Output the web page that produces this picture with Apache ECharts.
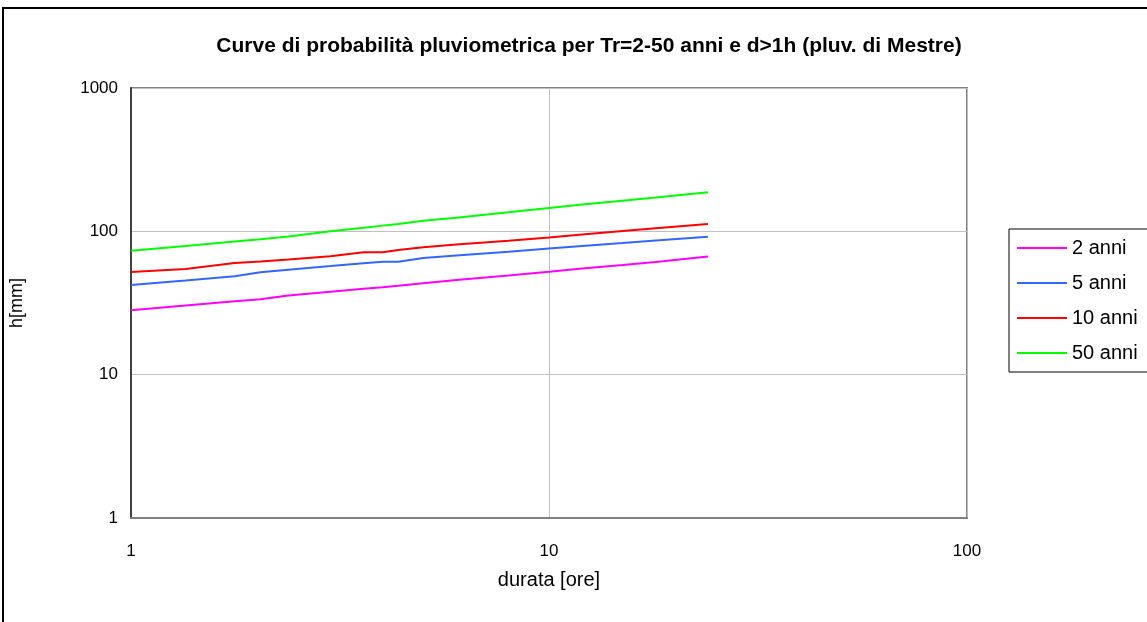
<!DOCTYPE html>
<html>
<head>
<meta charset="utf-8">
<script src="https://cdn.jsdelivr.net/npm/echarts@6/dist/echarts.min.js"></script>
<style>
html,body{margin:0;padding:0;background:#fff;}
#chart{width:1147px;height:622px;}
</style>
</head>
<body>
<div id="chart"></div>
<script>
// durations [ore]
const durations = [1, 1.35, 1.77, 2.04, 2.38, 3, 3.6, 4, 4.36, 5, 6, 8, 10, 12, 15, 18, 24];
const seriesNames = ['2 anni', '5 anni', '10 anni', '50 anni'];
const h2 =  [28.2, 30.4, 32.5, 33.6, 35.7, 37.9, 39.7, 40.7, 41.7, 43.4, 45.7, 49.2, 52.2, 55.0, 58.2, 61.1, 66.7];
const h5 =  [42.2, 45.4, 48.6, 51.8, 54.0, 57.2, 59.9, 61.4, 61.4, 65.1, 67.8, 72.0, 75.9, 79.0, 82.9, 86.3, 91.5];
const h10 = [52.0, 54.6, 60.1, 61.7, 63.6, 67.0, 71.4, 71.4, 74.0, 77.3, 80.9, 86.1, 90.7, 95.0, 100.5, 104.9, 112.4];
const h50 = [73.2, 79.1, 84.9, 88.1, 92.0, 100.2, 105.9, 109.6, 112.6, 118.4, 124.6, 135.7, 145.4, 153.6, 163.5, 172.1, 187.2];
const colors = ['#FF00FF', '#3366FF', '#FF0000', '#00FF00'];
const xTicks = [1, 10, 100];
const yTicks = [1, 10, 100, 1000];
const titleText = 'Curve di probabilità pluviometrica per Tr=2-50 anni e d>1h (pluv. di Mestre)';

const allValues = [h2, h5, h10, h50];
const chart = echarts.init(document.getElementById('chart'), null, {renderer: 'canvas'});
const font = '"Liberation Sans", Arial, sans-serif';

const series = allValues.map((vals, i) => ({
  name: seriesNames[i],
  type: 'line',
  data: durations.map((d, j) => [d, vals[j]]),
  showSymbol: false,
  symbol: 'none',
  lineStyle: {color: colors[i], width: 2},
  itemStyle: {color: colors[i]},
  emphasis: {disabled: true},
  z: 3
}));

chart.setOption({
  animation: false,
  backgroundColor: '#fff',
  textStyle: {fontFamily: font},
  title: {
    text: titleText,
    left: 584, top: 31, textAlign: 'center',
    textStyle: {fontFamily: font, fontSize: 21, fontWeight: 'bold', color: '#000'}
  },
  graphic: [{
    type: 'rect', z: 0, silent: true,
    shape: {x: 3, y: 8, width: 1200, height: 700},
    style: {fill: 'none', stroke: '#000', lineWidth: 2}
  }],
  grid: {
    left: 131, top: 88, right: 180, bottom: 104,
    show: true, borderColor: '#808080', borderWidth: 2, backgroundColor: '#fff'
  },
  legend: {
    orient: 'vertical',
    left: 1009, top: 229,
    data: seriesNames,
    icon: 'rect',
    itemWidth: 50, itemHeight: 2,
    itemGap: 15,
    padding: [9, 40, 9, 8],
    borderColor: '#000', borderWidth: 1,
    backgroundColor: '#fff',
    textStyle: {fontFamily: font, fontSize: 20, lineHeight: 20, color: '#000'},
    selectedMode: false
  },
  xAxis: {
    type: 'log', logBase: 10, min: 1, max: 100,
    name: 'durata [ore]', nameLocation: 'middle', nameGap: 52,
    nameTextStyle: {fontFamily: font, fontSize: 20, color: '#000'},
    axisLine: {show: true, lineStyle: {color: '#808080', width: 2}},
    axisTick: {show: false},
    axisLabel: {fontFamily: font, fontSize: 17, color: '#000', margin: 25,
      formatter: v => xTicks.includes(Math.round(v)) ? String(Math.round(v)) : ''},
    splitLine: {show: true, lineStyle: {color: '#c0c0c0', width: 1}},
    minorTick: {show: false}
  },
  yAxis: {
    type: 'log', logBase: 10, min: 1, max: 1000,
    name: 'h[mm]', nameLocation: 'middle', nameGap: 105, nameRotate: 90,
    nameTextStyle: {fontFamily: font, fontSize: 18, color: '#000'},
    axisLine: {show: true, lineStyle: {color: '#404040', width: 2}},
    axisTick: {show: false},
    axisLabel: {fontFamily: font, fontSize: 17, color: '#000', margin: 13,
      formatter: v => yTicks.includes(Math.round(v)) ? String(Math.round(v)) : ''},
    splitLine: {show: true, lineStyle: {color: '#c0c0c0', width: 1}}
  },
  series: series
});
</script>
</body>
</html>
